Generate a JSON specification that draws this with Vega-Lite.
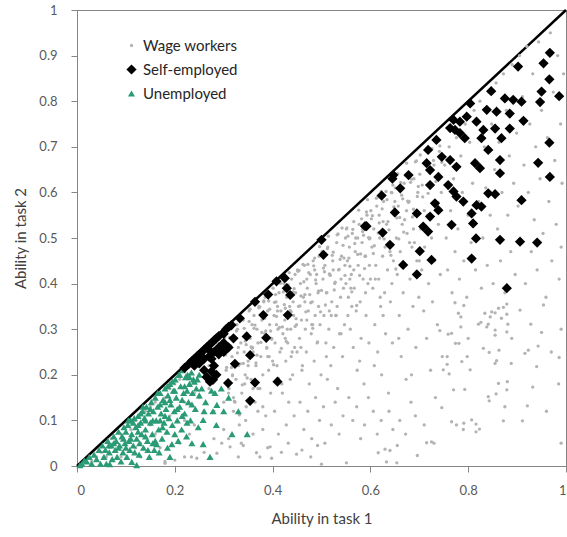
{
  "$schema": "https://vega.github.io/schema/vega-lite/v6.json",
  "width": 489,
  "height": 456,
  "autosize": {"type": "none"},
  "padding": {"left": 77, "top": 10, "right": 1, "bottom": 71},
  "background": "white",
  "config": {
    "view": {"stroke": "#868686", "strokeWidth": 1},
    "font": "Lato",
    "axis": {
      "grid": false,
      "domainColor": "#868686",
      "tickColor": "#868686",
      "tickSize": 6,
      "labelFont": "Lato",
      "labelFontSize": 13,
      "labelColor": "#595959",
      "titleFont": "Lato",
      "titleFontSize": 15,
      "titleFontWeight": "normal",
      "titleColor": "#404040"
    }
  },
  "layer": [
    {
      "data": {"values": [{"x": 0, "y": 0}, {"x": 1, "y": 1}]},
      "mark": {"type": "line", "color": "black", "strokeWidth": 2.5},
      "encoding": {
        "x": {"field": "x", "type": "quantitative"},
        "y": {"field": "y", "type": "quantitative"}
      }
    },
    {
      "data": {"values": [
{"x":0.03,"y":0.01,"g":"W"},{"x":0.05,"y":0.03,"g":"W"},{"x":0.06,"y":0.02,"g":"W"},{"x":0.08,"y":0.05,"g":"W"},{"x":0.09,"y":0.02,"g":"W"},{"x":0.07,"y":0.06,"g":"W"},{"x":0.04,"y":0.02,"g":"W"},{"x":0.09,"y":0.07,"g":"W"},
{"x":0.11,"y":0.08,"g":"W"},{"x":0.12,"y":0.1,"g":"W"},{"x":0.13,"y":0.05,"g":"W"},{"x":0.14,"y":0.12,"g":"W"},{"x":0.15,"y":0.09,"g":"W"},{"x":0.16,"y":0.14,"g":"W"},{"x":0.17,"y":0.04,"g":"W"},{"x":0.18,"y":0.15,"g":"W"},{"x":0.19,"y":0.11,"g":"W"},{"x":0.13,"y":0.02,"g":"W"},{"x":0.16,"y":0.07,"g":"W"},{"x":0.18,"y":0.01,"g":"W"},{"x":0.19,"y":0.17,"g":"W"},{"x":0.15,"y":0.13,"g":"W"},{"x":0.12,"y":0.04,"g":"W"},
{"x":0.2,"y":0.18,"g":"W"},{"x":0.21,"y":0.05,"g":"W"},{"x":0.22,"y":0.14,"g":"W"},{"x":0.23,"y":0.2,"g":"W"},{"x":0.24,"y":0.09,"g":"W"},{"x":0.25,"y":0.22,"g":"W"},{"x":0.26,"y":0.03,"g":"W"},{"x":0.27,"y":0.17,"g":"W"},{"x":0.28,"y":0.12,"g":"W"},{"x":0.29,"y":0.24,"g":"W"},{"x":0.21,"y":0.19,"g":"W"},{"x":0.22,"y":0.02,"g":"W"},{"x":0.24,"y":0.16,"g":"W"},{"x":0.26,"y":0.12,"g":"W"},{"x":0.28,"y":0.06,"g":"W"},{"x":0.29,"y":0.2,"g":"W"},{"x":0.23,"y":0.07,"g":"W"},{"x":0.27,"y":0.22,"g":"W"},{"x":0.25,"y":0.15,"g":"W"},{"x":0.3,"y":0.14,"g":"W"},{"x":0.22,"y":0.1,"g":"W"},{"x":0.28,"y":0.19,"g":"W"},{"x":0.3,"y":0.08,"g":"W"},{"x":0.26,"y":0.25,"g":"W"},{"x":0.29,"y":0.28,"g":"W"},
{"x":0.18,"y":0.006,"g":"W"},{"x":0.2,"y":0.013,"g":"W"},{"x":0.245,"y":0.017,"g":"W"},{"x":0.286,"y":0.028,"g":"W"},{"x":0.234,"y":0.02,"g":"W"},{"x":0.296,"y":0.05,"g":"W"},
{"x":0.301,"y":0.29,"g":"W"},{"x":0.305,"y":0.21,"g":"W"},{"x":0.308,"y":0.26,"g":"W"},{"x":0.311,"y":0.17,"g":"W"},{"x":0.314,"y":0.3,"g":"W"},{"x":0.317,"y":0.24,"g":"W"},{"x":0.32,"y":0.12,"g":"W"},{"x":0.322,"y":0.28,"g":"W"},{"x":0.325,"y":0.19,"g":"W"},{"x":0.327,"y":0.31,"g":"W"},{"x":0.33,"y":0.22,"g":"W"},{"x":0.332,"y":0.09,"g":"W"},{"x":0.335,"y":0.27,"g":"W"},{"x":0.337,"y":0.16,"g":"W"},{"x":0.34,"y":0.32,"g":"W"},{"x":0.342,"y":0.25,"g":"W"},{"x":0.344,"y":0.2,"g":"W"},{"x":0.346,"y":0.13,"g":"W"},{"x":0.348,"y":0.29,"g":"W"},{"x":0.35,"y":0.23,"g":"W"},{"x":0.31,"y":0.06,"g":"W"},{"x":0.323,"y":0.14,"g":"W"},{"x":0.336,"y":0.05,"g":"W"},{"x":0.345,"y":0.1,"g":"W"},{"x":0.313,"y":0.042,"g":"W"},{"x":0.33,"y":0.02,"g":"W"},{"x":0.34,"y":0.045,"g":"W"},{"x":0.328,"y":0.3,"g":"W"},{"x":0.318,"y":0.2,"g":"W"},{"x":0.343,"y":0.18,"g":"W"},
{"x":0.352,"y":0.34,"g":"W"},{"x":0.354,"y":0.28,"g":"W"},{"x":0.356,"y":0.19,"g":"W"},{"x":0.358,"y":0.31,"g":"W"},{"x":0.36,"y":0.25,"g":"W"},{"x":0.362,"y":0.33,"g":"W"},{"x":0.364,"y":0.14,"g":"W"},{"x":0.366,"y":0.22,"g":"W"},{"x":0.368,"y":0.3,"g":"W"},{"x":0.37,"y":0.27,"g":"W"},{"x":0.372,"y":0.35,"g":"W"},{"x":0.374,"y":0.17,"g":"W"},{"x":0.376,"y":0.24,"g":"W"},{"x":0.378,"y":0.32,"g":"W"},{"x":0.38,"y":0.2,"g":"W"},{"x":0.382,"y":0.36,"g":"W"},{"x":0.384,"y":0.29,"g":"W"},{"x":0.386,"y":0.11,"g":"W"},{"x":0.388,"y":0.26,"g":"W"},{"x":0.39,"y":0.34,"g":"W"},{"x":0.392,"y":0.21,"g":"W"},{"x":0.394,"y":0.31,"g":"W"},{"x":0.396,"y":0.16,"g":"W"},{"x":0.398,"y":0.28,"g":"W"},{"x":0.36,"y":0.07,"g":"W"},{"x":0.37,"y":0.12,"g":"W"},{"x":0.38,"y":0.08,"g":"W"},{"x":0.39,"y":0.04,"g":"W"},{"x":0.367,"y":0.029,"g":"W"},{"x":0.374,"y":0.02,"g":"W"},{"x":0.395,"y":0.042,"g":"W"},{"x":0.398,"y":0.017,"g":"W"},{"x":0.385,"y":0.37,"g":"W"},{"x":0.359,"y":0.26,"g":"W"},{"x":0.393,"y":0.24,"g":"W"},
{"x":0.401,"y":0.39,"g":"W"},{"x":0.403,"y":0.33,"g":"W"},{"x":0.405,"y":0.27,"g":"W"},{"x":0.407,"y":0.36,"g":"W"},{"x":0.409,"y":0.22,"g":"W"},{"x":0.411,"y":0.3,"g":"W"},{"x":0.413,"y":0.38,"g":"W"},{"x":0.415,"y":0.25,"g":"W"},{"x":0.417,"y":0.34,"g":"W"},{"x":0.419,"y":0.18,"g":"W"},{"x":0.421,"y":0.29,"g":"W"},{"x":0.423,"y":0.4,"g":"W"},{"x":0.425,"y":0.32,"g":"W"},{"x":0.427,"y":0.23,"g":"W"},{"x":0.429,"y":0.37,"g":"W"},{"x":0.431,"y":0.27,"g":"W"},{"x":0.433,"y":0.14,"g":"W"},{"x":0.435,"y":0.35,"g":"W"},{"x":0.437,"y":0.3,"g":"W"},{"x":0.439,"y":0.41,"g":"W"},{"x":0.441,"y":0.2,"g":"W"},{"x":0.443,"y":0.33,"g":"W"},{"x":0.445,"y":0.26,"g":"W"},{"x":0.447,"y":0.38,"g":"W"},{"x":0.449,"y":0.31,"g":"W"},{"x":0.404,"y":0.12,"g":"W"},{"x":0.412,"y":0.07,"g":"W"},{"x":0.42,"y":0.16,"g":"W"},{"x":0.428,"y":0.09,"g":"W"},{"x":0.436,"y":0.19,"g":"W"},{"x":0.444,"y":0.11,"g":"W"},{"x":0.449,"y":0.026,"g":"W"},{"x":0.418,"y":0.03,"g":"W"},{"x":0.432,"y":0.05,"g":"W"},{"x":0.41,"y":0.35,"g":"W"},{"x":0.426,"y":0.28,"g":"W"},{"x":0.438,"y":0.24,"g":"W"},{"x":0.446,"y":0.42,"g":"W"},{"x":0.408,"y":0.31,"g":"W"},{"x":0.442,"y":0.36,"g":"W"},
{"x":0.451,"y":0.43,"g":"W"},{"x":0.453,"y":0.35,"g":"W"},{"x":0.455,"y":0.28,"g":"W"},{"x":0.457,"y":0.4,"g":"W"},{"x":0.459,"y":0.32,"g":"W"},{"x":0.461,"y":0.22,"g":"W"},{"x":0.463,"y":0.37,"g":"W"},{"x":0.465,"y":0.44,"g":"W"},{"x":0.467,"y":0.3,"g":"W"},{"x":0.469,"y":0.25,"g":"W"},{"x":0.471,"y":0.39,"g":"W"},{"x":0.473,"y":0.34,"g":"W"},{"x":0.475,"y":0.18,"g":"W"},{"x":0.477,"y":0.42,"g":"W"},{"x":0.479,"y":0.29,"g":"W"},{"x":0.481,"y":0.36,"g":"W"},{"x":0.483,"y":0.45,"g":"W"},{"x":0.485,"y":0.23,"g":"W"},{"x":0.487,"y":0.33,"g":"W"},{"x":0.489,"y":0.4,"g":"W"},{"x":0.491,"y":0.27,"g":"W"},{"x":0.493,"y":0.38,"g":"W"},{"x":0.495,"y":0.46,"g":"W"},{"x":0.497,"y":0.31,"g":"W"},{"x":0.499,"y":0.2,"g":"W"},{"x":0.456,"y":0.14,"g":"W"},{"x":0.464,"y":0.08,"g":"W"},{"x":0.472,"y":0.12,"g":"W"},{"x":0.48,"y":0.06,"g":"W"},{"x":0.488,"y":0.15,"g":"W"},{"x":0.496,"y":0.1,"g":"W"},{"x":0.46,"y":0.035,"g":"W"},{"x":0.478,"y":0.02,"g":"W"},{"x":0.492,"y":0.045,"g":"W"},{"x":0.458,"y":0.26,"g":"W"},{"x":0.47,"y":0.41,"g":"W"},{"x":0.482,"y":0.31,"g":"W"},{"x":0.494,"y":0.35,"g":"W"},{"x":0.466,"y":0.36,"g":"W"},{"x":0.486,"y":0.43,"g":"W"},
{"x":0.501,"y":0.47,"g":"W"},{"x":0.503,"y":0.41,"g":"W"},{"x":0.505,"y":0.33,"g":"W"},{"x":0.507,"y":0.44,"g":"W"},{"x":0.507,"y":0.05,"g":"W"},{"x":0.5,"y":0.004,"g":"W"},{"x":0.509,"y":0.27,"g":"W"},{"x":0.511,"y":0.38,"g":"W"},{"x":0.513,"y":0.48,"g":"W"},{"x":0.515,"y":0.3,"g":"W"},{"x":0.517,"y":0.42,"g":"W"},{"x":0.519,"y":0.22,"g":"W"},{"x":0.521,"y":0.36,"g":"W"},{"x":0.523,"y":0.45,"g":"W"},{"x":0.525,"y":0.26,"g":"W"},{"x":0.527,"y":0.4,"g":"W"},{"x":0.529,"y":0.33,"g":"W"},{"x":0.531,"y":0.49,"g":"W"},{"x":0.533,"y":0.17,"g":"W"},{"x":0.535,"y":0.43,"g":"W"},{"x":0.537,"y":0.29,"g":"W"},{"x":0.539,"y":0.37,"g":"W"},{"x":0.541,"y":0.46,"g":"W"},{"x":0.543,"y":0.24,"g":"W"},{"x":0.545,"y":0.39,"g":"W"},{"x":0.547,"y":0.31,"g":"W"},{"x":0.549,"y":0.5,"g":"W"},{"x":0.504,"y":0.13,"g":"W"},{"x":0.512,"y":0.19,"g":"W"},{"x":0.52,"y":0.09,"g":"W"},{"x":0.528,"y":0.14,"g":"W"},{"x":0.536,"y":0.07,"g":"W"},{"x":0.544,"y":0.11,"g":"W"},{"x":0.551,"y":0.007,"g":"W"},{"x":0.516,"y":0.34,"g":"W"},{"x":0.524,"y":0.43,"g":"W"},{"x":0.532,"y":0.35,"g":"W"},{"x":0.54,"y":0.41,"g":"W"},{"x":0.548,"y":0.44,"g":"W"},{"x":0.51,"y":0.24,"g":"W"},
{"x":0.551,"y":0.52,"g":"W"},{"x":0.553,"y":0.45,"g":"W"},{"x":0.555,"y":0.37,"g":"W"},{"x":0.557,"y":0.48,"g":"W"},{"x":0.559,"y":0.3,"g":"W"},{"x":0.561,"y":0.42,"g":"W"},{"x":0.563,"y":0.51,"g":"W"},{"x":0.565,"y":0.26,"g":"W"},{"x":0.567,"y":0.39,"g":"W"},{"x":0.569,"y":0.47,"g":"W"},{"x":0.571,"y":0.34,"g":"W"},{"x":0.573,"y":0.21,"g":"W"},{"x":0.575,"y":0.44,"g":"W"},{"x":0.577,"y":0.53,"g":"W"},{"x":0.579,"y":0.36,"g":"W"},{"x":0.581,"y":0.28,"g":"W"},{"x":0.583,"y":0.49,"g":"W"},{"x":0.585,"y":0.41,"g":"W"},{"x":0.587,"y":0.18,"g":"W"},{"x":0.589,"y":0.46,"g":"W"},{"x":0.591,"y":0.33,"g":"W"},{"x":0.593,"y":0.55,"g":"W"},{"x":0.595,"y":0.4,"g":"W"},{"x":0.597,"y":0.27,"g":"W"},{"x":0.599,"y":0.5,"g":"W"},{"x":0.556,"y":0.15,"g":"W"},{"x":0.564,"y":0.1,"g":"W"},{"x":0.572,"y":0.13,"g":"W"},{"x":0.58,"y":0.06,"g":"W"},{"x":0.588,"y":0.09,"g":"W"},{"x":0.596,"y":0.15,"g":"W"},{"x":0.554,"y":0.33,"g":"W"},{"x":0.566,"y":0.43,"g":"W"},{"x":0.578,"y":0.23,"g":"W"},{"x":0.59,"y":0.38,"g":"W"},{"x":0.598,"y":0.44,"g":"W"},{"x":0.562,"y":0.35,"g":"W"},{"x":0.584,"y":0.52,"g":"W"},{"x":0.574,"y":0.5,"g":"W"},{"x":0.558,"y":0.41,"g":"W"},
{"x":0.601,"y":0.56,"g":"W"},{"x":0.603,"y":0.48,"g":"W"},{"x":0.605,"y":0.39,"g":"W"},{"x":0.607,"y":0.52,"g":"W"},{"x":0.609,"y":0.31,"g":"W"},{"x":0.611,"y":0.44,"g":"W"},{"x":0.613,"y":0.57,"g":"W"},{"x":0.615,"y":0.25,"g":"W"},{"x":0.616,"y":0.029,"g":"W"},{"x":0.617,"y":0.41,"g":"W"},{"x":0.619,"y":0.5,"g":"W"},{"x":0.621,"y":0.35,"g":"W"},{"x":0.623,"y":0.2,"g":"W"},{"x":0.625,"y":0.46,"g":"W"},{"x":0.627,"y":0.58,"g":"W"},{"x":0.629,"y":0.38,"g":"W"},{"x":0.63,"y":0.037,"g":"W"},{"x":0.631,"y":0.29,"g":"W"},{"x":0.633,"y":0.009,"g":"W"},{"x":0.633,"y":0.53,"g":"W"},{"x":0.635,"y":0.43,"g":"W"},{"x":0.637,"y":0.16,"g":"W"},{"x":0.639,"y":0.49,"g":"W"},{"x":0.64,"y":0.034,"g":"W"},{"x":0.641,"y":0.36,"g":"W"},{"x":0.643,"y":0.6,"g":"W"},{"x":0.645,"y":0.27,"g":"W"},{"x":0.647,"y":0.45,"g":"W"},{"x":0.649,"y":0.55,"g":"W"},{"x":0.606,"y":0.12,"g":"W"},{"x":0.614,"y":0.07,"g":"W"},{"x":0.622,"y":0.1,"g":"W"},{"x":0.638,"y":0.12,"g":"W"},{"x":0.646,"y":0.08,"g":"W"},{"x":0.608,"y":0.22,"g":"W"},{"x":0.626,"y":0.33,"g":"W"},{"x":0.644,"y":0.4,"g":"W"},{"x":0.618,"y":0.55,"g":"W"},
{"x":0.651,"y":0.61,"g":"W"},{"x":0.653,"y":0.5,"g":"W"},{"x":0.654,"y":0.007,"g":"W"},{"x":0.655,"y":0.045,"g":"W"},{"x":0.655,"y":0.42,"g":"W"},{"x":0.657,"y":0.57,"g":"W"},{"x":0.659,"y":0.33,"g":"W"},{"x":0.661,"y":0.47,"g":"W"},{"x":0.663,"y":0.24,"g":"W"},{"x":0.665,"y":0.53,"g":"W"},{"x":0.667,"y":0.38,"g":"W"},{"x":0.669,"y":0.62,"g":"W"},{"x":0.671,"y":0.44,"g":"W"},{"x":0.673,"y":0.19,"g":"W"},{"x":0.675,"y":0.51,"g":"W"},{"x":0.677,"y":0.3,"g":"W"},{"x":0.679,"y":0.58,"g":"W"},{"x":0.681,"y":0.41,"g":"W"},{"x":0.683,"y":0.14,"g":"W"},{"x":0.685,"y":0.48,"g":"W"},{"x":0.687,"y":0.35,"g":"W"},{"x":0.689,"y":0.63,"g":"W"},{"x":0.691,"y":0.55,"g":"W"},{"x":0.693,"y":0.26,"g":"W"},{"x":0.695,"y":0.45,"g":"W"},{"x":0.696,"y":0.023,"g":"W"},{"x":0.697,"y":0.6,"g":"W"},{"x":0.699,"y":0.37,"g":"W"},{"x":0.66,"y":0.1,"g":"W"},{"x":0.672,"y":0.07,"g":"W"},{"x":0.684,"y":0.2,"g":"W"},{"x":0.692,"y":0.11,"g":"W"},{"x":0.658,"y":0.28,"g":"W"},{"x":0.674,"y":0.56,"g":"W"},{"x":0.688,"y":0.52,"g":"W"},
{"x":0.701,"y":0.64,"g":"W"},{"x":0.703,"y":0.52,"g":"W"},{"x":0.705,"y":0.43,"g":"W"},{"x":0.707,"y":0.59,"g":"W"},{"x":0.709,"y":0.34,"g":"W"},{"x":0.711,"y":0.48,"g":"W"},{"x":0.713,"y":0.66,"g":"W"},{"x":0.715,"y":0.051,"g":"W"},{"x":0.715,"y":0.28,"g":"W"},{"x":0.717,"y":0.55,"g":"W"},{"x":0.719,"y":0.4,"g":"W"},{"x":0.721,"y":0.62,"g":"W"},{"x":0.723,"y":0.21,"g":"W"},{"x":0.725,"y":0.053,"g":"W"},{"x":0.725,"y":0.5,"g":"W"},{"x":0.727,"y":0.36,"g":"W"},{"x":0.729,"y":0.67,"g":"W"},{"x":0.731,"y":0.45,"g":"W"},{"x":0.733,"y":0.15,"g":"W"},{"x":0.735,"y":0.57,"g":"W"},{"x":0.737,"y":0.31,"g":"W"},{"x":0.739,"y":0.53,"g":"W"},{"x":0.741,"y":0.69,"g":"W"},{"x":0.742,"y":0.297,"g":"W"},{"x":0.743,"y":0.42,"g":"W"},{"x":0.745,"y":0.6,"g":"W"},{"x":0.746,"y":0.128,"g":"W"},{"x":0.747,"y":0.24,"g":"W"},{"x":0.749,"y":0.211,"g":"W"},{"x":0.71,"y":0.09,"g":"W"},{"x":0.73,"y":0.05,"g":"W"},
{"x":0.302,"y":0.282,"g":"W"},{"x":0.306,"y":0.216,"g":"W"},{"x":0.31,"y":0.16,"g":"W"},{"x":0.314,"y":0.264,"g":"W"},{"x":0.318,"y":0.198,"g":"W"},{"x":0.322,"y":0.142,"g":"W"},{"x":0.326,"y":0.296,"g":"W"},{"x":0.33,"y":0.26,"g":"W"},{"x":0.334,"y":0.224,"g":"W"},{"x":0.338,"y":0.178,"g":"W"},{"x":0.342,"y":0.302,"g":"W"},{"x":0.346,"y":0.266,"g":"W"},{"x":0.35,"y":0.22,"g":"W"},{"x":0.354,"y":0.344,"g":"W"},{"x":0.358,"y":0.258,"g":"W"},{"x":0.362,"y":0.302,"g":"W"},{"x":0.366,"y":0.226,"g":"W"},{"x":0.37,"y":0.17,"g":"W"},{"x":0.374,"y":0.349,"g":"W"},{"x":0.378,"y":0.293,"g":"W"},{"x":0.382,"y":0.362,"g":"W"},{"x":0.386,"y":0.296,"g":"W"},{"x":0.39,"y":0.24,"g":"W"},{"x":0.394,"y":0.344,"g":"W"},{"x":0.398,"y":0.278,"g":"W"},{"x":0.402,"y":0.222,"g":"W"},{"x":0.406,"y":0.376,"g":"W"},{"x":0.41,"y":0.34,"g":"W"},{"x":0.414,"y":0.304,"g":"W"},{"x":0.418,"y":0.258,"g":"W"},{"x":0.422,"y":0.382,"g":"W"},{"x":0.426,"y":0.346,"g":"W"},{"x":0.43,"y":0.3,"g":"W"},{"x":0.434,"y":0.424,"g":"W"},{"x":0.438,"y":0.338,"g":"W"},{"x":0.442,"y":0.382,"g":"W"},{"x":0.446,"y":0.306,"g":"W"},{"x":0.45,"y":0.25,"g":"W"},{"x":0.454,"y":0.429,"g":"W"},{"x":0.458,"y":0.373,"g":"W"},{"x":0.462,"y":0.442,"g":"W"},{"x":0.466,"y":0.376,"g":"W"},{"x":0.47,"y":0.32,"g":"W"},{"x":0.474,"y":0.424,"g":"W"},{"x":0.478,"y":0.358,"g":"W"},{"x":0.482,"y":0.302,"g":"W"},{"x":0.486,"y":0.456,"g":"W"},{"x":0.49,"y":0.42,"g":"W"},{"x":0.494,"y":0.384,"g":"W"},{"x":0.498,"y":0.338,"g":"W"},{"x":0.502,"y":0.462,"g":"W"},{"x":0.506,"y":0.426,"g":"W"},{"x":0.51,"y":0.38,"g":"W"},{"x":0.514,"y":0.504,"g":"W"},{"x":0.518,"y":0.418,"g":"W"},{"x":0.522,"y":0.462,"g":"W"},{"x":0.526,"y":0.386,"g":"W"},{"x":0.53,"y":0.33,"g":"W"},{"x":0.534,"y":0.509,"g":"W"},{"x":0.538,"y":0.453,"g":"W"},{"x":0.542,"y":0.522,"g":"W"},{"x":0.546,"y":0.456,"g":"W"},{"x":0.55,"y":0.4,"g":"W"},{"x":0.554,"y":0.504,"g":"W"},{"x":0.558,"y":0.438,"g":"W"},{"x":0.562,"y":0.382,"g":"W"},{"x":0.566,"y":0.536,"g":"W"},{"x":0.57,"y":0.5,"g":"W"},{"x":0.574,"y":0.464,"g":"W"},{"x":0.578,"y":0.418,"g":"W"},{"x":0.582,"y":0.542,"g":"W"},{"x":0.586,"y":0.506,"g":"W"},{"x":0.59,"y":0.46,"g":"W"},{"x":0.594,"y":0.584,"g":"W"},{"x":0.598,"y":0.498,"g":"W"},{"x":0.602,"y":0.542,"g":"W"},{"x":0.606,"y":0.466,"g":"W"},{"x":0.61,"y":0.41,"g":"W"},{"x":0.614,"y":0.589,"g":"W"},{"x":0.618,"y":0.533,"g":"W"},{"x":0.622,"y":0.602,"g":"W"},{"x":0.626,"y":0.536,"g":"W"},{"x":0.63,"y":0.48,"g":"W"},{"x":0.634,"y":0.584,"g":"W"},{"x":0.638,"y":0.518,"g":"W"},{"x":0.642,"y":0.462,"g":"W"},{"x":0.646,"y":0.616,"g":"W"},{"x":0.65,"y":0.58,"g":"W"},{"x":0.654,"y":0.544,"g":"W"},{"x":0.658,"y":0.498,"g":"W"},{"x":0.662,"y":0.622,"g":"W"},{"x":0.666,"y":0.586,"g":"W"},{"x":0.67,"y":0.54,"g":"W"},{"x":0.674,"y":0.664,"g":"W"},{"x":0.678,"y":0.578,"g":"W"},{"x":0.682,"y":0.622,"g":"W"},{"x":0.686,"y":0.546,"g":"W"},{"x":0.69,"y":0.49,"g":"W"},{"x":0.694,"y":0.669,"g":"W"},{"x":0.698,"y":0.613,"g":"W"},{"x":0.702,"y":0.682,"g":"W"},{"x":0.706,"y":0.616,"g":"W"},{"x":0.71,"y":0.56,"g":"W"},{"x":0.714,"y":0.664,"g":"W"},{"x":0.718,"y":0.598,"g":"W"},{"x":0.722,"y":0.542,"g":"W"},{"x":0.726,"y":0.696,"g":"W"},{"x":0.73,"y":0.66,"g":"W"},{"x":0.734,"y":0.624,"g":"W"},{"x":0.738,"y":0.578,"g":"W"},{"x":0.742,"y":0.702,"g":"W"},{"x":0.746,"y":0.666,"g":"W"},
{"x":0.304,"y":0.244,"g":"W"},{"x":0.308,"y":0.178,"g":"W"},{"x":0.312,"y":0.282,"g":"W"},{"x":0.316,"y":0.216,"g":"W"},{"x":0.32,"y":0.15,"g":"W"},{"x":0.324,"y":0.279,"g":"W"},{"x":0.328,"y":0.248,"g":"W"},{"x":0.332,"y":0.112,"g":"W"},{"x":0.336,"y":0.321,"g":"W"},{"x":0.34,"y":0.225,"g":"W"},{"x":0.344,"y":0.274,"g":"W"},{"x":0.348,"y":0.193,"g":"W"},{"x":0.352,"y":0.317,"g":"W"},{"x":0.356,"y":0.261,"g":"W"},{"x":0.36,"y":0.17,"g":"W"},{"x":0.364,"y":0.309,"g":"W"},{"x":0.368,"y":0.243,"g":"W"},{"x":0.372,"y":0.347,"g":"W"},{"x":0.376,"y":0.271,"g":"W"},{"x":0.38,"y":0.13,"g":"W"},{"x":0.384,"y":0.324,"g":"W"},{"x":0.388,"y":0.258,"g":"W"},{"x":0.392,"y":0.362,"g":"W"},{"x":0.396,"y":0.296,"g":"W"},{"x":0.4,"y":0.23,"g":"W"},{"x":0.404,"y":0.359,"g":"W"},{"x":0.408,"y":0.328,"g":"W"},{"x":0.412,"y":0.192,"g":"W"},{"x":0.416,"y":0.401,"g":"W"},{"x":0.42,"y":0.305,"g":"W"},{"x":0.424,"y":0.354,"g":"W"},{"x":0.428,"y":0.273,"g":"W"},{"x":0.432,"y":0.397,"g":"W"},{"x":0.436,"y":0.341,"g":"W"},{"x":0.44,"y":0.25,"g":"W"},{"x":0.444,"y":0.389,"g":"W"},{"x":0.448,"y":0.323,"g":"W"},{"x":0.452,"y":0.427,"g":"W"},{"x":0.456,"y":0.351,"g":"W"},{"x":0.46,"y":0.21,"g":"W"},{"x":0.464,"y":0.404,"g":"W"},{"x":0.468,"y":0.338,"g":"W"},{"x":0.472,"y":0.442,"g":"W"},{"x":0.476,"y":0.376,"g":"W"},{"x":0.48,"y":0.31,"g":"W"},{"x":0.484,"y":0.439,"g":"W"},{"x":0.488,"y":0.408,"g":"W"},{"x":0.492,"y":0.272,"g":"W"},{"x":0.496,"y":0.481,"g":"W"},{"x":0.5,"y":0.385,"g":"W"},{"x":0.504,"y":0.434,"g":"W"},{"x":0.508,"y":0.353,"g":"W"},{"x":0.512,"y":0.477,"g":"W"},{"x":0.516,"y":0.421,"g":"W"},{"x":0.52,"y":0.33,"g":"W"},{"x":0.524,"y":0.469,"g":"W"},{"x":0.528,"y":0.403,"g":"W"},{"x":0.532,"y":0.507,"g":"W"},{"x":0.536,"y":0.431,"g":"W"},{"x":0.54,"y":0.29,"g":"W"},{"x":0.544,"y":0.484,"g":"W"},{"x":0.548,"y":0.418,"g":"W"},{"x":0.552,"y":0.522,"g":"W"},{"x":0.556,"y":0.456,"g":"W"},{"x":0.56,"y":0.39,"g":"W"},{"x":0.564,"y":0.519,"g":"W"},{"x":0.568,"y":0.488,"g":"W"},{"x":0.572,"y":0.352,"g":"W"},{"x":0.576,"y":0.561,"g":"W"},{"x":0.58,"y":0.465,"g":"W"},{"x":0.584,"y":0.514,"g":"W"},{"x":0.588,"y":0.433,"g":"W"},{"x":0.592,"y":0.557,"g":"W"},{"x":0.596,"y":0.501,"g":"W"},{"x":0.6,"y":0.41,"g":"W"},{"x":0.604,"y":0.549,"g":"W"},{"x":0.608,"y":0.483,"g":"W"},{"x":0.612,"y":0.587,"g":"W"},{"x":0.616,"y":0.511,"g":"W"},{"x":0.62,"y":0.37,"g":"W"},{"x":0.624,"y":0.564,"g":"W"},{"x":0.628,"y":0.498,"g":"W"},{"x":0.632,"y":0.602,"g":"W"},{"x":0.636,"y":0.536,"g":"W"},{"x":0.64,"y":0.47,"g":"W"},{"x":0.644,"y":0.599,"g":"W"},{"x":0.648,"y":0.568,"g":"W"},{"x":0.652,"y":0.432,"g":"W"},{"x":0.656,"y":0.641,"g":"W"},{"x":0.66,"y":0.545,"g":"W"},{"x":0.664,"y":0.594,"g":"W"},{"x":0.668,"y":0.513,"g":"W"},{"x":0.672,"y":0.637,"g":"W"},{"x":0.676,"y":0.581,"g":"W"},{"x":0.68,"y":0.49,"g":"W"},{"x":0.684,"y":0.629,"g":"W"},{"x":0.688,"y":0.563,"g":"W"},{"x":0.692,"y":0.667,"g":"W"},{"x":0.696,"y":0.591,"g":"W"},{"x":0.7,"y":0.45,"g":"W"},
{"x":0.773,"y":0.358,"g":"W"},{"x":0.791,"y":0.352,"g":"W"},{"x":0.879,"y":0.355,"g":"W"},{"x":0.954,"y":0.353,"g":"W"},{"x":0.906,"y":0.342,"g":"W"},{"x":0.872,"y":0.348,"g":"W"},{"x":0.862,"y":0.346,"g":"W"},{"x":0.834,"y":0.335,"g":"W"},{"x":0.848,"y":0.338,"g":"W"},{"x":0.855,"y":0.336,"g":"W"},{"x":0.78,"y":0.335,"g":"W"},{"x":0.785,"y":0.327,"g":"W"},{"x":0.879,"y":0.333,"g":"W"},{"x":0.868,"y":0.324,"g":"W"},{"x":0.845,"y":0.327,"g":"W"},{"x":0.821,"y":0.311,"g":"W"},{"x":0.826,"y":0.315,"g":"W"},{"x":0.841,"y":0.311,"g":"W"},{"x":0.838,"y":0.305,"g":"W"},{"x":0.881,"y":0.311,"g":"W"},{"x":0.928,"y":0.311,"g":"W"},{"x":0.785,"y":0.305,"g":"W"},{"x":0.855,"y":0.298,"g":"W"},{"x":0.855,"y":0.287,"g":"W"},{"x":0.879,"y":0.294,"g":"W"},{"x":0.95,"y":0.293,"g":"W"},{"x":0.759,"y":0.289,"g":"W"},{"x":0.766,"y":0.291,"g":"W"},{"x":0.8,"y":0.28,"g":"W"},{"x":0.889,"y":0.28,"g":"W"},{"x":0.774,"y":0.269,"g":"W"},{"x":0.781,"y":0.269,"g":"W"},{"x":0.943,"y":0.263,"g":"W"},{"x":0.831,"y":0.258,"g":"W"},{"x":0.843,"y":0.249,"g":"W"},{"x":0.863,"y":0.254,"g":"W"},{"x":0.923,"y":0.254,"g":"W"},{"x":0.916,"y":0.247,"g":"W"},{"x":0.757,"y":0.24,"g":"W"},{"x":0.798,"y":0.24,"g":"W"},{"x":0.986,"y":0.238,"g":"W"},{"x":0.787,"y":0.229,"g":"W"},{"x":0.855,"y":0.225,"g":"W"},{"x":0.858,"y":0.231,"g":"W"},{"x":0.888,"y":0.225,"g":"W"},{"x":0.757,"y":0.223,"g":"W"},{"x":0.94,"y":0.218,"g":"W"},{"x":0.761,"y":0.202,"g":"W"},{"x":0.804,"y":0.211,"g":"W"},{"x":0.862,"y":0.181,"g":"W"},{"x":0.88,"y":0.185,"g":"W"},{"x":0.77,"y":0.167,"g":"W"},{"x":0.793,"y":0.168,"g":"W"},{"x":0.879,"y":0.167,"g":"W"},{"x":0.857,"y":0.158,"g":"W"},{"x":0.932,"y":0.173,"g":"W"},{"x":0.841,"y":0.152,"g":"W"},{"x":0.843,"y":0.143,"g":"W"},{"x":0.875,"y":0.13,"g":"W"},{"x":0.921,"y":0.132,"g":"W"},{"x":0.766,"y":0.097,"g":"W"},{"x":0.776,"y":0.09,"g":"W"},{"x":0.791,"y":0.094,"g":"W"},{"x":0.79,"y":0.08,"g":"W"},{"x":0.807,"y":0.101,"g":"W"},{"x":0.816,"y":0.092,"g":"W"},{"x":0.816,"y":0.075,"g":"W"},{"x":0.823,"y":0.081,"g":"W"},{"x":0.872,"y":0.099,"g":"W"},{"x":0.911,"y":0.099,"g":"W"},
{"x":0.752,"y":0.66,"g":"W"},{"x":0.755,"y":0.5,"g":"W"},{"x":0.758,"y":0.43,"g":"W"},{"x":0.761,"y":0.7,"g":"W"},{"x":0.764,"y":0.56,"g":"W"},{"x":0.767,"y":0.38,"g":"W"},{"x":0.77,"y":0.63,"g":"W"},{"x":0.773,"y":0.47,"g":"W"},{"x":0.776,"y":0.72,"g":"W"},{"x":0.779,"y":0.52,"g":"W"},{"x":0.782,"y":0.41,"g":"W"},{"x":0.785,"y":0.68,"g":"W"},{"x":0.788,"y":0.6,"g":"W"},{"x":0.791,"y":0.45,"g":"W"},{"x":0.794,"y":0.75,"g":"W"},{"x":0.797,"y":0.37,"g":"W"},{"x":0.8,"y":0.55,"g":"W"},{"x":0.803,"y":0.71,"g":"W"},{"x":0.806,"y":0.49,"g":"W"},{"x":0.809,"y":0.62,"g":"W"},{"x":0.812,"y":0.78,"g":"W"},{"x":0.815,"y":0.43,"g":"W"},{"x":0.818,"y":0.66,"g":"W"},{"x":0.821,"y":0.58,"g":"W"},{"x":0.824,"y":0.8,"g":"W"},{"x":0.827,"y":0.39,"g":"W"},{"x":0.83,"y":0.5,"g":"W"},{"x":0.833,"y":0.7,"g":"W"},{"x":0.836,"y":0.61,"g":"W"},{"x":0.839,"y":0.44,"g":"W"},{"x":0.842,"y":0.82,"g":"W"},{"x":0.845,"y":0.55,"g":"W"},{"x":0.848,"y":0.75,"g":"W"},{"x":0.851,"y":0.4,"g":"W"},{"x":0.854,"y":0.65,"g":"W"},{"x":0.857,"y":0.84,"g":"W"},{"x":0.86,"y":0.52,"g":"W"},{"x":0.863,"y":0.71,"g":"W"},{"x":0.866,"y":0.45,"g":"W"},{"x":0.869,"y":0.6,"g":"W"},{"x":0.872,"y":0.86,"g":"W"},{"x":0.875,"y":0.38,"g":"W"},{"x":0.878,"y":0.78,"g":"W"},{"x":0.881,"y":0.55,"g":"W"},{"x":0.884,"y":0.68,"g":"W"},{"x":0.887,"y":0.47,"g":"W"},{"x":0.89,"y":0.88,"g":"W"},{"x":0.893,"y":0.62,"g":"W"},{"x":0.896,"y":0.42,"g":"W"},{"x":0.899,"y":0.73,"g":"W"},{"x":0.902,"y":0.57,"g":"W"},{"x":0.905,"y":0.9,"g":"W"},{"x":0.908,"y":0.49,"g":"W"},{"x":0.911,"y":0.81,"g":"W"},{"x":0.914,"y":0.66,"g":"W"},{"x":0.917,"y":0.4,"g":"W"},{"x":0.92,"y":0.92,"g":"W"},{"x":0.923,"y":0.6,"g":"W"},{"x":0.926,"y":0.75,"g":"W"},{"x":0.929,"y":0.47,"g":"W"},{"x":0.932,"y":0.86,"g":"W"},{"x":0.935,"y":0.54,"g":"W"},{"x":0.938,"y":0.7,"g":"W"},{"x":0.941,"y":0.43,"g":"W"},{"x":0.944,"y":0.93,"g":"W"},{"x":0.947,"y":0.63,"g":"W"},{"x":0.95,"y":0.78,"g":"W"},{"x":0.953,"y":0.51,"g":"W"},{"x":0.956,"y":0.88,"g":"W"},{"x":0.959,"y":0.37,"g":"W"},{"x":0.962,"y":0.72,"g":"W"},{"x":0.965,"y":0.58,"g":"W"},{"x":0.968,"y":0.95,"g":"W"},{"x":0.971,"y":0.45,"g":"W"},{"x":0.974,"y":0.82,"g":"W"},{"x":0.977,"y":0.67,"g":"W"},{"x":0.98,"y":0.53,"g":"W"},{"x":0.983,"y":0.9,"g":"W"},{"x":0.986,"y":0.41,"g":"W"},{"x":0.989,"y":0.75,"g":"W"},{"x":0.992,"y":0.62,"g":"W"},{"x":0.995,"y":0.86,"g":"W"},{"x":0.99,"y":0.48,"g":"W"},{"x":0.99,"y":0.3,"g":"W"},{"x":0.985,"y":0.18,"g":"W"},{"x":0.99,"y":0.05,"g":"W"},{"x":0.97,"y":0.25,"g":"W"},{"x":0.96,"y":0.12,"g":"W"},
{"x":0.01,"y":0.005,"g":"U"},{"x":0.02,"y":0.01,"g":"U"},{"x":0.025,"y":0.02,"g":"U"},{"x":0.03,"y":0.005,"g":"U"},{"x":0.035,"y":0.025,"g":"U"},{"x":0.04,"y":0.015,"g":"U"},{"x":0.045,"y":0.035,"g":"U"},{"x":0.048,"y":0.005,"g":"U"},{"x":0.006,"y":0.002,"g":"U"},{"x":0.015,"y":0.012,"g":"U"},
{"x":0.052,"y":0.045,"g":"U"},{"x":0.055,"y":0.02,"g":"U"},{"x":0.058,"y":0.035,"g":"U"},{"x":0.06,"y":0.005,"g":"U"},{"x":0.063,"y":0.055,"g":"U"},{"x":0.066,"y":0.03,"g":"U"},{"x":0.067,"y":0.004,"g":"U"},{"x":0.07,"y":0.045,"g":"U"},{"x":0.072,"y":0.015,"g":"U"},{"x":0.075,"y":0.065,"g":"U"},{"x":0.078,"y":0.035,"g":"U"},{"x":0.08,"y":0.055,"g":"U"},{"x":0.082,"y":0.02,"g":"U"},{"x":0.085,"y":0.075,"g":"U"},{"x":0.087,"y":0.045,"g":"U"},{"x":0.09,"y":0.01,"g":"U"},{"x":0.092,"y":0.065,"g":"U"},{"x":0.094,"y":0.03,"g":"U"},{"x":0.096,"y":0.085,"g":"U"},{"x":0.098,"y":0.05,"g":"U"},{"x":0.1,"y":0.075,"g":"U"},
{"x":0.102,"y":0.02,"g":"U"},{"x":0.104,"y":0.09,"g":"U"},{"x":0.106,"y":0.055,"g":"U"},{"x":0.108,"y":0.035,"g":"U"},{"x":0.11,"y":0.1,"g":"U"},{"x":0.112,"y":0.009,"g":"U"},{"x":0.112,"y":0.07,"g":"U"},{"x":0.115,"y":0.045,"g":"U"},{"x":0.117,"y":0.105,"g":"U"},{"x":0.12,"y":0.085,"g":"U"},{"x":0.122,"y":0.002,"g":"U"},{"x":0.122,"y":0.06,"g":"U"},{"x":0.125,"y":0.11,"g":"U"},{"x":0.127,"y":0.025,"g":"U"},{"x":0.13,"y":0.095,"g":"U"},{"x":0.132,"y":0.07,"g":"U"},{"x":0.134,"y":0.12,"g":"U"},{"x":0.136,"y":0.04,"g":"U"},{"x":0.138,"y":0.105,"g":"U"},{"x":0.14,"y":0.08,"g":"U"},{"x":0.142,"y":0.13,"g":"U"},{"x":0.144,"y":0.055,"g":"U"},{"x":0.146,"y":0.115,"g":"U"},{"x":0.148,"y":0.02,"g":"U"},{"x":0.15,"y":0.095,"g":"U"},{"x":0.128,"y":0.05,"g":"U"},{"x":0.118,"y":0.03,"g":"U"},
{"x":0.152,"y":0.14,"g":"U"},{"x":0.154,"y":0.07,"g":"U"},{"x":0.156,"y":0.12,"g":"U"},{"x":0.158,"y":0.035,"g":"U"},{"x":0.16,"y":0.15,"g":"U"},{"x":0.162,"y":0.1,"g":"U"},{"x":0.163,"y":0.048,"g":"U"},{"x":0.165,"y":0.13,"g":"U"},{"x":0.167,"y":0.08,"g":"U"},{"x":0.17,"y":0.16,"g":"U"},{"x":0.172,"y":0.115,"g":"U"},{"x":0.174,"y":0.06,"g":"U"},{"x":0.176,"y":0.145,"g":"U"},{"x":0.178,"y":0.095,"g":"U"},{"x":0.18,"y":0.17,"g":"U"},{"x":0.182,"y":0.125,"g":"U"},{"x":0.184,"y":0.075,"g":"U"},{"x":0.186,"y":0.155,"g":"U"},{"x":0.188,"y":0.105,"g":"U"},{"x":0.19,"y":0.18,"g":"U"},{"x":0.192,"y":0.135,"g":"U"},{"x":0.194,"y":0.048,"g":"U"},{"x":0.195,"y":0.09,"g":"U"},{"x":0.197,"y":0.165,"g":"U"},{"x":0.199,"y":0.12,"g":"U"},{"x":0.168,"y":0.03,"g":"U"},{"x":0.185,"y":0.04,"g":"U"},
{"x":0.201,"y":0.19,"g":"U"},{"x":0.203,"y":0.15,"g":"U"},{"x":0.205,"y":0.1,"g":"U"},{"x":0.207,"y":0.055,"g":"U"},{"x":0.208,"y":0.2,"g":"U"},{"x":0.21,"y":0.13,"g":"U"},{"x":0.212,"y":0.175,"g":"U"},{"x":0.214,"y":0.08,"g":"U"},{"x":0.216,"y":0.21,"g":"U"},{"x":0.218,"y":0.16,"g":"U"},{"x":0.22,"y":0.115,"g":"U"},{"x":0.222,"y":0.195,"g":"U"},{"x":0.224,"y":0.065,"g":"U"},{"x":0.226,"y":0.2,"g":"U"},{"x":0.228,"y":0.14,"g":"U"},{"x":0.23,"y":0.18,"g":"U"},{"x":0.232,"y":0.1,"g":"U"},{"x":0.234,"y":0.205,"g":"U"},{"x":0.236,"y":0.16,"g":"U"},{"x":0.238,"y":0.19,"g":"U"},{"x":0.242,"y":0.125,"g":"U"},{"x":0.244,"y":0.17,"g":"U"},{"x":0.246,"y":0.19,"g":"U"},{"x":0.248,"y":0.085,"g":"U"},{"x":0.25,"y":0.2,"g":"U"},
{"x":0.255,"y":0.17,"g":"U"},{"x":0.258,"y":0.101,"g":"U"},{"x":0.258,"y":0.048,"g":"U"},{"x":0.263,"y":0.14,"g":"U"},{"x":0.27,"y":0.19,"g":"U"},{"x":0.272,"y":0.02,"g":"U"},{"x":0.278,"y":0.12,"g":"U"},{"x":0.282,"y":0.16,"g":"U"},{"x":0.286,"y":0.134,"g":"U"},{"x":0.295,"y":0.17,"g":"U"},{"x":0.3,"y":0.12,"g":"U"},{"x":0.317,"y":0.07,"g":"U"},{"x":0.33,"y":0.12,"g":"U"},{"x":0.348,"y":0.07,"g":"U"},{"x":0.31,"y":0.15,"g":"U"},{"x":0.285,"y":0.09,"g":"U"},
{"x":0.105,"y":0.1,"g":"U"},{"x":0.115,"y":0.095,"g":"U"},{"x":0.125,"y":0.075,"g":"U"},{"x":0.135,"y":0.13,"g":"U"},{"x":0.14,"y":0.1,"g":"U"},{"x":0.145,"y":0.035,"g":"U"},{"x":0.15,"y":0.125,"g":"U"},{"x":0.155,"y":0.1,"g":"U"},{"x":0.16,"y":0.055,"g":"U"},{"x":0.165,"y":0.16,"g":"U"},{"x":0.17,"y":0.135,"g":"U"},{"x":0.175,"y":0.085,"g":"U"},{"x":0.18,"y":0.11,"g":"U"},{"x":0.185,"y":0.175,"g":"U"},{"x":0.19,"y":0.145,"g":"U"},{"x":0.195,"y":0.185,"g":"U"},{"x":0.2,"y":0.165,"g":"U"},{"x":0.205,"y":0.125,"g":"U"},{"x":0.21,"y":0.2,"g":"U"},{"x":0.215,"y":0.145,"g":"U"},{"x":0.22,"y":0.175,"g":"U"},{"x":0.225,"y":0.095,"g":"U"},{"x":0.23,"y":0.195,"g":"U"},{"x":0.235,"y":0.135,"g":"U"},{"x":0.24,"y":0.185,"g":"U"},{"x":0.25,"y":0.155,"g":"U"},{"x":0.26,"y":0.12,"g":"U"},{"x":0.275,"y":0.165,"g":"U"},{"x":0.095,"y":0.06,"g":"U"},{"x":0.085,"y":0.04,"g":"U"},{"x":0.075,"y":0.05,"g":"U"},{"x":0.065,"y":0.045,"g":"U"},{"x":0.11,"y":0.06,"g":"U"},{"x":0.13,"y":0.115,"g":"U"},{"x":0.17,"y":0.1,"g":"U"},{"x":0.2,"y":0.07,"g":"U"},{"x":0.215,"y":0.11,"g":"U"},{"x":0.235,"y":0.05,"g":"U"},{"x":0.19,"y":0.02,"g":"U"},{"x":0.155,"y":0.05,"g":"U"},{"x":0.125,"y":0.09,"g":"U"},{"x":0.1,"y":0.04,"g":"U"},{"x":0.14,"y":0.065,"g":"U"},{"x":0.18,"y":0.14,"g":"U"},{"x":0.225,"y":0.165,"g":"U"},
{"x":0.22,"y":0.215,"g":"S"},{"x":0.23,"y":0.225,"g":"S"},{"x":0.235,"y":0.23,"g":"S"},{"x":0.24,"y":0.235,"g":"S"},{"x":0.245,"y":0.24,"g":"S"},{"x":0.25,"y":0.245,"g":"S"},{"x":0.255,"y":0.25,"g":"S"},{"x":0.26,"y":0.255,"g":"S"},{"x":0.265,"y":0.26,"g":"S"},{"x":0.27,"y":0.265,"g":"S"},{"x":0.275,"y":0.27,"g":"S"},{"x":0.28,"y":0.275,"g":"S"},{"x":0.285,"y":0.28,"g":"S"},{"x":0.29,"y":0.285,"g":"S"},{"x":0.3,"y":0.29,"g":"S"},{"x":0.305,"y":0.3,"g":"S"},{"x":0.31,"y":0.305,"g":"S"},{"x":0.24,"y":0.22,"g":"S"},{"x":0.25,"y":0.225,"g":"S"},{"x":0.26,"y":0.235,"g":"S"},{"x":0.27,"y":0.24,"g":"S"},{"x":0.28,"y":0.25,"g":"S"},{"x":0.29,"y":0.26,"g":"S"},{"x":0.3,"y":0.27,"g":"S"},{"x":0.27,"y":0.255,"g":"S"},{"x":0.26,"y":0.21,"g":"S"},{"x":0.28,"y":0.22,"g":"S"},{"x":0.29,"y":0.245,"g":"S"},{"x":0.3,"y":0.25,"g":"S"},{"x":0.31,"y":0.26,"g":"S"},{"x":0.32,"y":0.28,"g":"S"},{"x":0.275,"y":0.235,"g":"S"},{"x":0.265,"y":0.195,"g":"S"},{"x":0.285,"y":0.2,"g":"S"},
{"x":0.278,"y":0.189,"g":"S"},{"x":0.309,"y":0.182,"g":"S"},{"x":0.316,"y":0.309,"g":"S"},{"x":0.333,"y":0.324,"g":"S"},{"x":0.347,"y":0.284,"g":"S"},{"x":0.387,"y":0.281,"g":"S"},{"x":0.354,"y":0.243,"g":"S"},{"x":0.323,"y":0.224,"g":"S"},{"x":0.364,"y":0.183,"g":"S"},{"x":0.41,"y":0.185,"g":"S"},{"x":0.354,"y":0.143,"g":"S"},{"x":0.275,"y":0.207,"g":"S"},{"x":0.272,"y":0.185,"g":"S"},{"x":0.364,"y":0.36,"g":"S"},{"x":0.381,"y":0.331,"g":"S"},{"x":0.431,"y":0.331,"g":"S"},{"x":0.391,"y":0.376,"g":"S"},{"x":0.408,"y":0.405,"g":"S"},{"x":0.425,"y":0.412,"g":"S"},{"x":0.429,"y":0.39,"g":"S"},{"x":0.436,"y":0.375,"g":"S"},{"x":0.5,"y":0.496,"g":"S"},{"x":0.504,"y":0.463,"g":"S"},{"x":0.592,"y":0.526,"g":"S"},
{"x":0.967,"y":0.906,"g":"S"},{"x":0.954,"y":0.883,"g":"S"},{"x":0.902,"y":0.876,"g":"S"},{"x":0.966,"y":0.848,"g":"S"},{"x":0.95,"y":0.821,"g":"S"},{"x":0.986,"y":0.811,"g":"S"},{"x":0.947,"y":0.798,"g":"S"},{"x":0.847,"y":0.822,"g":"S"},{"x":0.875,"y":0.806,"g":"S"},{"x":0.892,"y":0.803,"g":"S"},{"x":0.909,"y":0.799,"g":"S"},{"x":0.804,"y":0.795,"g":"S"},{"x":0.838,"y":0.781,"g":"S"},{"x":0.858,"y":0.777,"g":"S"},{"x":0.885,"y":0.773,"g":"S"},{"x":0.913,"y":0.757,"g":"S"},{"x":0.77,"y":0.759,"g":"S"},{"x":0.783,"y":0.755,"g":"S"},{"x":0.763,"y":0.741,"g":"S"},{"x":0.773,"y":0.737,"g":"S"},{"x":0.797,"y":0.766,"g":"S"},{"x":0.817,"y":0.755,"g":"S"},{"x":0.831,"y":0.737,"g":"S"},{"x":0.855,"y":0.74,"g":"S"},{"x":0.885,"y":0.74,"g":"S"},{"x":0.868,"y":0.719,"g":"S"},{"x":0.783,"y":0.73,"g":"S"},{"x":0.793,"y":0.719,"g":"S"},{"x":0.827,"y":0.719,"g":"S"},{"x":0.735,"y":0.715,"g":"S"},{"x":0.718,"y":0.693,"g":"S"},{"x":0.746,"y":0.678,"g":"S"},{"x":0.763,"y":0.671,"g":"S"},{"x":0.776,"y":0.656,"g":"S"},{"x":0.715,"y":0.664,"g":"S"},{"x":0.722,"y":0.649,"g":"S"},{"x":0.739,"y":0.634,"g":"S"},{"x":0.814,"y":0.664,"g":"S"},{"x":0.824,"y":0.653,"g":"S"},{"x":0.841,"y":0.693,"g":"S"},{"x":0.865,"y":0.671,"g":"S"},{"x":0.865,"y":0.642,"g":"S"},{"x":0.966,"y":0.709,"g":"S"},{"x":0.943,"y":0.665,"g":"S"},{"x":0.967,"y":0.634,"g":"S"},{"x":0.647,"y":0.638,"g":"S"},{"x":0.678,"y":0.638,"g":"S"},{"x":0.722,"y":0.616,"g":"S"},{"x":0.661,"y":0.609,"g":"S"},{"x":0.623,"y":0.593,"g":"S"},{"x":0.759,"y":0.616,"g":"S"},{"x":0.77,"y":0.602,"g":"S"},{"x":0.776,"y":0.591,"g":"S"},{"x":0.79,"y":0.58,"g":"S"},{"x":0.841,"y":0.598,"g":"S"},{"x":0.855,"y":0.596,"g":"S"},{"x":0.909,"y":0.583,"g":"S"},{"x":0.817,"y":0.572,"g":"S"},{"x":0.827,"y":0.569,"g":"S"},{"x":0.732,"y":0.576,"g":"S"},{"x":0.739,"y":0.561,"g":"S"},{"x":0.695,"y":0.554,"g":"S"},{"x":0.722,"y":0.547,"g":"S"},{"x":0.807,"y":0.554,"g":"S"},{"x":0.81,"y":0.532,"g":"S"},{"x":0.65,"y":0.556,"g":"S"},{"x":0.766,"y":0.529,"g":"S"},{"x":0.708,"y":0.525,"g":"S"},{"x":0.718,"y":0.514,"g":"S"},{"x":0.589,"y":0.526,"g":"S"},{"x":0.625,"y":0.512,"g":"S"},{"x":0.64,"y":0.485,"g":"S"},{"x":0.816,"y":0.499,"g":"S"},{"x":0.865,"y":0.496,"g":"S"},{"x":0.906,"y":0.492,"g":"S"},{"x":0.941,"y":0.49,"g":"S"},{"x":0.701,"y":0.471,"g":"S"},{"x":0.725,"y":0.452,"g":"S"},{"x":0.667,"y":0.441,"g":"S"},{"x":0.807,"y":0.455,"g":"S"},{"x":0.695,"y":0.42,"g":"S"},{"x":0.879,"y":0.39,"g":"S"},{"x":0.645,"y":0.63,"g":"S"}
      ]},
      "mark": {"type": "point", "filled": true, "opacity": 1, "strokeWidth": 0},
      "encoding": {
        "x": {"field": "x", "type": "quantitative", "title": "Ability in task 1",
              "scale": {"domain": [0, 1], "nice": false},
              "axis": {"values": [0, 0.2, 0.4, 0.6, 0.8, 1], "format": ".1~f", "labelPadding": 12, "titlePadding": 14}},
        "y": {"field": "y", "type": "quantitative", "title": "Ability in task 2",
              "scale": {"domain": [0, 1], "nice": false},
              "axis": {"values": [0, 0.1, 0.2, 0.3, 0.4, 0.5, 0.6, 0.7, 0.8, 0.9, 1], "format": ".1~f", "labelPadding": 14, "titlePadding": 10}},
        "color": {"field": "g", "type": "nominal",
                  "scale": {"domain": ["W", "S", "U"], "range": ["#b3b3b3", "#000000", "#2a9b74"]},
                  "legend": {"title": null, "orient": "none", "legendX": 47, "legendY": 28,
                             "labelExpr": "datum.label == 'W' ? 'Wage workers' : datum.label == 'S' ? 'Self-employed' : 'Unemployed'",
                             "labelFont": "Lato", "labelFontSize": 15, "labelColor": "#262626",
                             "rowPadding": 8, "padding": 0, "symbolStrokeWidth": 0}},
        "shape": {"field": "g", "type": "nominal",
                  "scale": {"domain": ["W", "S", "U"], "range": ["circle", "diamond", "triangle-up"]}},
        "size": {"field": "g", "type": "nominal",
                 "scale": {"type": "ordinal", "domain": ["W", "S", "U"], "range": [11, 105, 50]}}
      }
    }
  ]
}
